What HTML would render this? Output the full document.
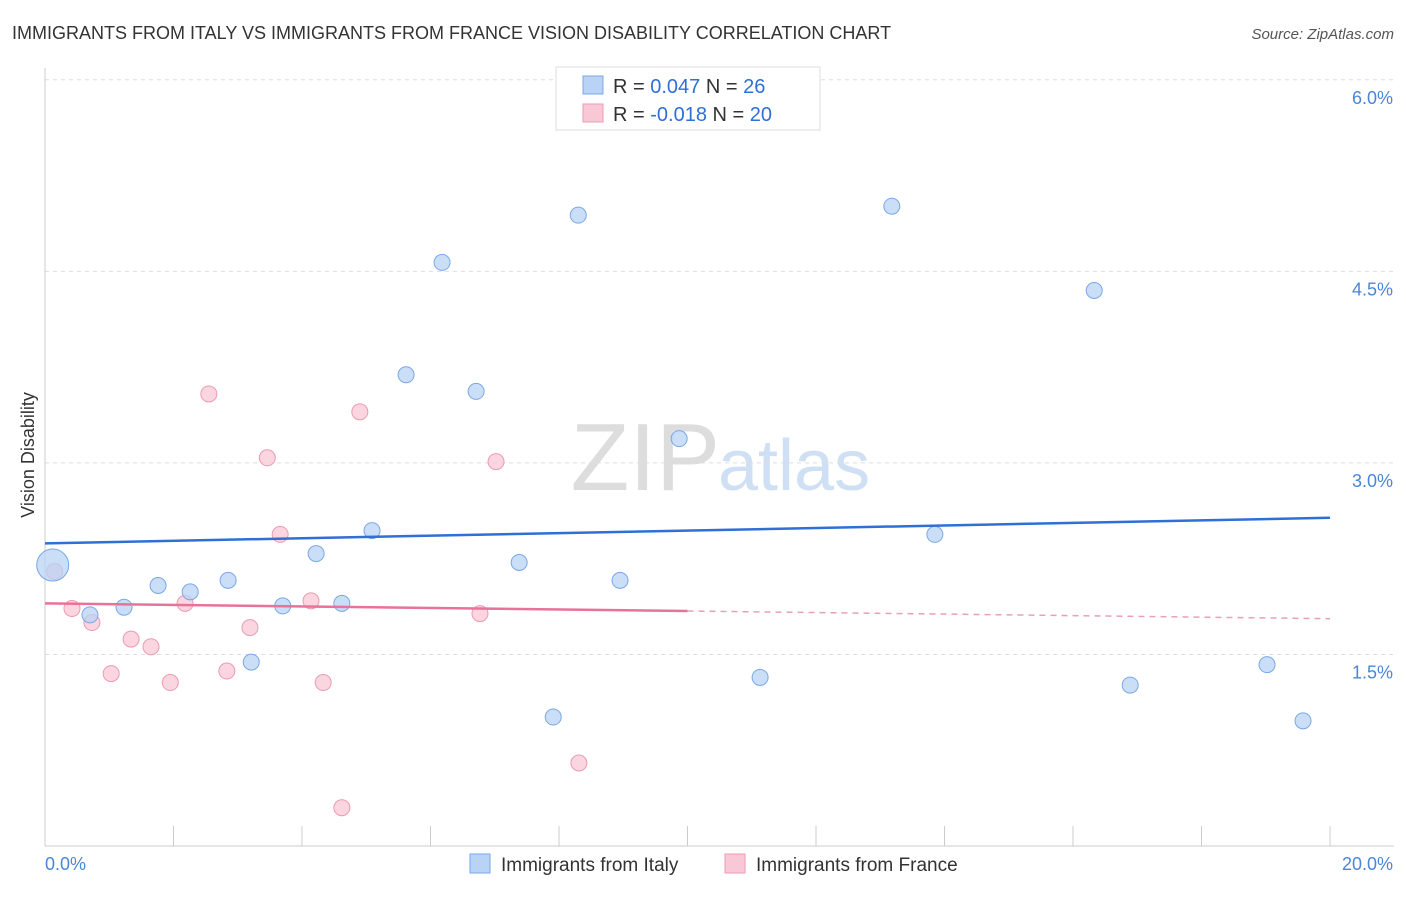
<!DOCTYPE html>
<html><head><meta charset="utf-8"><style>
body{margin:0;background:#fff;font-family:"Liberation Sans",sans-serif;}
svg text{font-family:"Liberation Sans",sans-serif;}
</style></head><body>
<svg id="chart" width="1406" height="892" xmlns="http://www.w3.org/2000/svg">
<text x="12" y="39" font-size="18" fill="#333">IMMIGRANTS FROM ITALY VS IMMIGRANTS FROM FRANCE VISION DISABILITY CORRELATION CHART</text>
<text x="1394" y="39" font-size="15" fill="#555" text-anchor="end" font-style="italic">Source: ZipAtlas.com</text>
<text x="720" y="490" font-size="96" fill="#ddd" text-anchor="end" font-family="Liberation Serif">ZIP</text>
<text x="718" y="490" font-size="72" fill="#cfe0f4">atlas</text>
<g id="grid"></g><g id="axes"></g><g id="marks"></g>
<text transform="translate(34,455) rotate(-90)" font-size="18" fill="#333" text-anchor="middle">Vision Disability</text>
<g>
<rect x="556" y="67" width="264" height="63" fill="#fff" stroke="#ddd"/>
<rect x="583" y="76" width="20" height="18" fill="#b8d3f5" stroke="#7aa7e6"/>
<rect x="583" y="104" width="20" height="18" fill="#f9c8d6" stroke="#ec9ab3"/>
<text x="613" y="93" font-size="20" fill="#333">R = <tspan fill="#2f6fd6">0.047</tspan>   N = <tspan fill="#2f6fd6">26</tspan></text>
<text x="613" y="121" font-size="20" fill="#333">R = <tspan fill="#2f6fd6">-0.018</tspan>   N = <tspan fill="#2f6fd6">20</tspan></text>
</g>
<g>
<rect x="470" y="854" width="20" height="19" fill="#b8d3f5" stroke="#7aa7e6"/>
<text x="501" y="871" font-size="19" fill="#333">Immigrants from Italy</text>
<rect x="725" y="854" width="20" height="19" fill="#f9c8d6" stroke="#ec9ab3"/>
<text x="756" y="871" font-size="19" fill="#333">Immigrants from France</text>
</g>
</svg>
<script>
const yTicks=[1.5,3.0,4.5,6.0];
const yTickLabels=["1.5%","3.0%","4.5%","6.0%"];
const xTicks=[0,2,4,6,8,10,12,14,16,18,20];
const italyX=[0.12,0.70,1.23,1.76,2.26,2.85,3.21,3.70,4.22,4.62,5.09,5.62,6.18,6.71,7.38,7.91,8.30,8.95,9.87,11.13,13.18,13.85,16.33,16.89,19.02,19.58];
const italyY=[2.20,1.81,1.87,2.04,1.99,2.08,1.44,1.88,2.29,1.90,2.47,3.69,4.57,3.56,2.22,1.01,4.94,2.08,3.19,1.32,5.01,2.44,4.35,1.26,1.42,0.98];
const franceX=[0.15,0.42,0.73,1.03,1.34,1.65,1.95,2.18,2.55,2.83,3.19,3.46,3.66,4.14,4.33,4.62,4.90,6.77,7.02,8.31];
const franceY=[2.15,1.86,1.75,1.35,1.62,1.56,1.28,1.90,3.54,1.37,1.71,3.04,2.44,1.92,1.28,0.30,3.40,1.82,3.01,0.65];
const italyTrend=[2.37,2.57];
const franceTrend=[1.90,1.78];
const xs=v=>45+v*64.25, ys=v=>846-v*127.7;
const NS="http://www.w3.org/2000/svg";
function mk(t,a,p){const e=document.createElementNS(NS,t);for(const k in a)e.setAttribute(k,a[k]);p.appendChild(e);return e;}
const grid=document.getElementById('grid'),axes=document.getElementById('axes'),marks=document.getElementById('marks');
yTicks.forEach((v,i)=>{
 const l=mk('line',{x1:45,x2:1394,y1:ys(v),y2:ys(v),stroke:'#ddd','stroke-dasharray':'4,4'},grid);
 
 
 const t=mk('text',{x:1393,y:ys(v)+24,'font-size':18,fill:'#4a86d8','text-anchor':'end'},axes);
 t.textContent=yTickLabels[i];
 
 
});
const ya=mk('line',{x1:45,x2:45,y1:68,y2:846,stroke:'#ccc'},axes);


const xa=mk('line',{x1:45,x2:1394,y1:846,y2:846,stroke:'#ccc'},axes);


xTicks.forEach(v=>{const l=mk('line',{x1:xs(v),x2:xs(v),y1:826,y2:846,stroke:'#ccc'},axes);
 
 });
const x0=mk('text',{x:45,y:870,'font-size':18,fill:'#4a86d8'},axes);x0.textContent="0.0%";


const x1=mk('text',{x:1393,y:870,'font-size':18,fill:'#4a86d8','text-anchor':'end'},axes);x1.textContent="20.0%";


franceX.forEach((x,i)=>{const c=mk('circle',{cx:xs(x),cy:ys(franceY[i]),r:8,fill:'#f9c8d6','fill-opacity':0.75,stroke:'#ec9ab3'},marks);
 
 });
italyX.forEach((x,i)=>{const c=mk('circle',{cx:xs(x),cy:ys(italyY[i]),r:i==0?16:8,fill:'#b8d3f5','fill-opacity':0.75,stroke:'#7aa7e6'},marks);
 
 });
const bl=mk('line',{x1:xs(0),y1:ys(italyTrend[0]),x2:xs(20),y2:ys(italyTrend[1]),stroke:'#2f6fd6','stroke-width':2.5},marks);


const fm=franceTrend[0]+(franceTrend[1]-franceTrend[0])*0.5;
const pl=mk('line',{x1:xs(0),y1:ys(franceTrend[0]),x2:xs(10),y2:ys(fm),stroke:'#e8729a','stroke-width':2.5},marks);


const pd=mk('line',{x1:xs(10),y1:ys(fm),x2:xs(20),y2:ys(franceTrend[1]),stroke:'#e8a0b8','stroke-width':1.5,'stroke-dasharray':'6,5'},marks);


</script>
</body></html>
